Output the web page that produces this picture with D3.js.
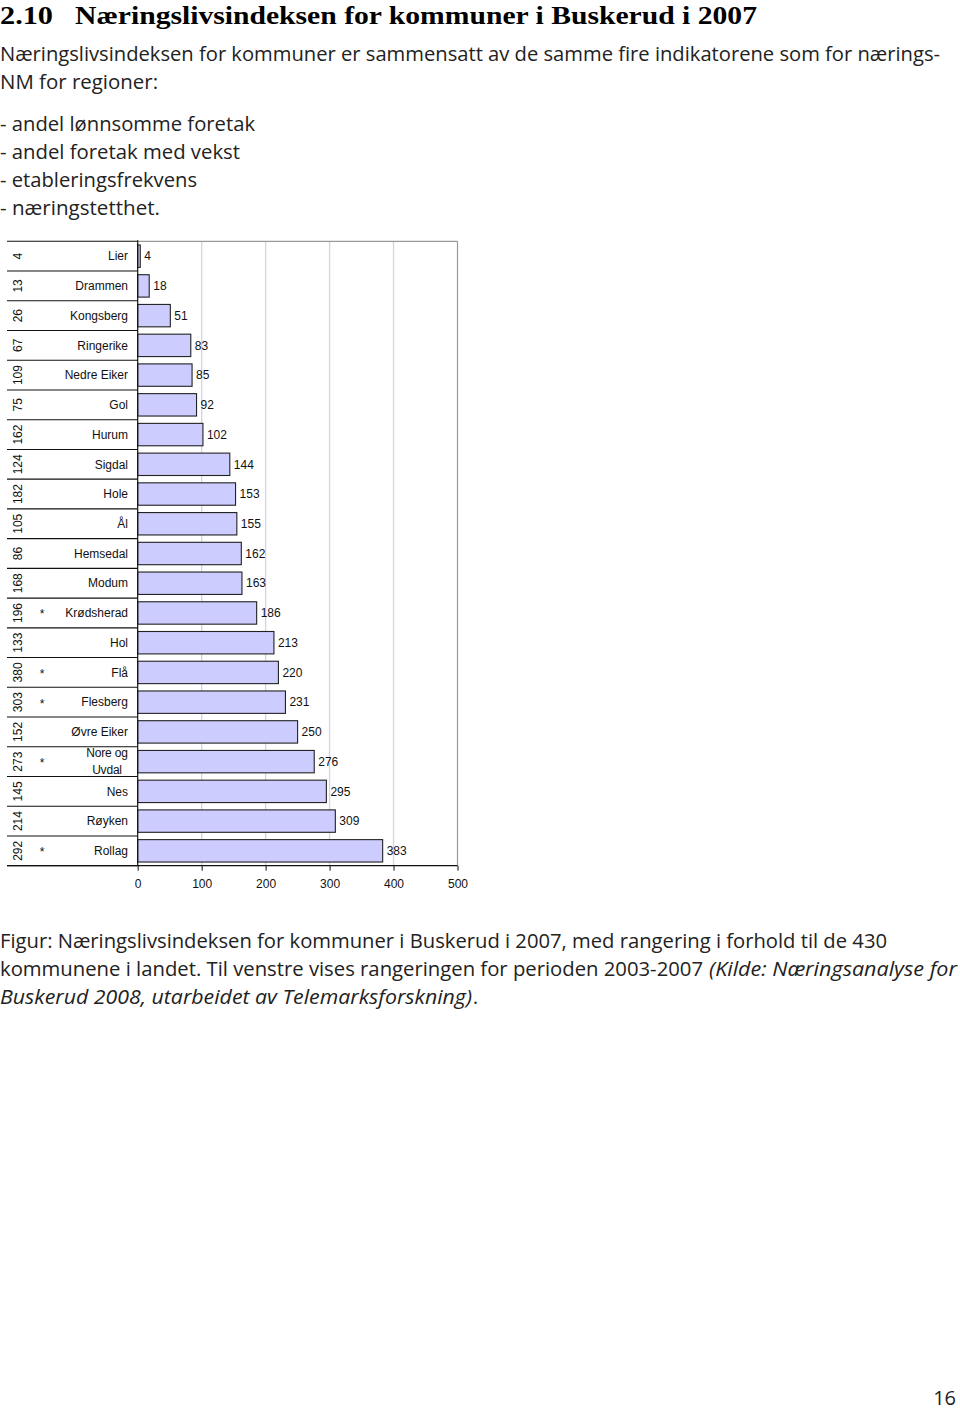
<!DOCTYPE html>
<html>
<head>
<meta charset="utf-8">
<script src="https://cdn.jsdelivr.net/npm/d3@7"></script>
<style>
  html, body { margin: 0; padding: 0; background: #fff; }
  svg { display: block; }
</style>
</head>
<body>
<script>
// ---- Data ----
const categories = ["Lier","Drammen","Kongsberg","Ringerike","Nedre Eiker","Gol","Hurum","Sigdal","Hole","Ål","Hemsedal","Modum","Krødsherad","Hol","Flå","Flesberg","Øvre Eiker","Nore og Uvdal","Nes","Røyken","Rollag"];
const values = [4,18,51,83,85,92,102,144,153,155,162,163,186,213,220,231,250,276,295,309,383];
const ranks2003_2007 = [4,13,26,67,109,75,162,124,182,105,86,168,196,133,380,303,152,273,145,214,292];
const starred = ["Krødsherad","Flå","Flesberg","Nore og Uvdal","Rollag"];
const xTicks = [0,100,200,300,400,500];

const W = 960, H = 1410;
const svg = d3.select("body").append("svg").attr("width", W).attr("height", H);

// ---- Page text ----
const bodyFont = "'Open Sans', 'Noto Sans', sans-serif";
svg.append("text").attr("x", 0).attr("y", 24)
  .attr("font-family", "'Liberation Serif', serif").attr("font-weight", "bold").attr("font-size", 26)
  .attr("textLength", 53).attr("lengthAdjust", "spacingAndGlyphs").text("2.10");
svg.append("text").attr("x", 75).attr("y", 24)
  .attr("font-family", "'Liberation Serif', serif").attr("font-weight", "bold").attr("font-size", 26)
  .attr("textLength", 682).attr("lengthAdjust", "spacingAndGlyphs")
  .text("Næringslivsindeksen for kommuner i Buskerud i 2007");

const bodyLines = [
  {t: "Næringslivsindeksen for kommuner er sammensatt av de samme fire indikatorene som for nærings-", y: 61, w: 940},
  {t: "NM for regioner:", y: 89, w: 158},
  {t: "- andel lønnsomme foretak", y: 131, w: 255},
  {t: "- andel foretak med vekst", y: 159, w: 240},
  {t: "- etableringsfrekvens", y: 187, w: 197},
  {t: "- næringstetthet.", y: 215, w: 160}
];
bodyLines.forEach(l => {
  svg.append("text").attr("x", 0).attr("y", l.y)
    .attr("font-family", bodyFont).attr("font-size", 20).attr("fill", "#222")
    .attr("textLength", l.w).attr("lengthAdjust", "spacingAndGlyphs").text(l.t);
});

const capLines = [
  {t: "Figur: Næringslivsindeksen for kommuner i Buskerud i 2007, med rangering i forhold til de 430", x: 0, y: 948, w: 887, it: false},
  {t: "kommunene i landet. Til venstre vises rangeringen for perioden 2003-2007", x: 0, y: 976, w: 703, it: false},
  {t: "(Kilde: Næringsanalyse for", x: 709, y: 976, w: 248, it: true},
  {t: "Buskerud 2008, utarbeidet av Telemarksforskning)", x: 0, y: 1004, w: 472, it: true},
  {t: ".", x: 473, y: 1004, w: 5, it: false}
];
capLines.forEach(l => {
  svg.append("text").attr("x", l.x).attr("y", l.y)
    .attr("font-family", bodyFont).attr("font-size", 20).attr("fill", "#222")
    .attr("font-style", l.it ? "italic" : "normal")
    .attr("textLength", l.w).attr("lengthAdjust", "spacingAndGlyphs").text(l.t);
});

svg.append("text").attr("x", 956).attr("y", 1405).attr("text-anchor", "end")
  .attr("font-family", bodyFont).attr("font-size", 20).attr("fill", "#222").text("16");

// ---- Chart ----
const chartFont = "'Liberation Sans', Arial, sans-serif";
const x0 = 137.7, x1 = 457.5, yTop = 241.3, yBot = 865.7, tableLeft = 7;
const x = d3.scaleLinear().domain([0, 500]).range([x0, x1]);
const y = d3.scaleBand().domain(categories).range([yTop, yBot]);
const rowH = y.step();
const rowTop = i => yTop + i * rowH;
const rowMid = i => y(categories[i]) + rowH / 2;

const g = svg.append("g");

// gridlines
g.selectAll("line.grid").data(xTicks.filter(d => d > 0 && d < 500)).enter().append("line")
  .attr("x1", d => x(d)).attr("x2", d => x(d)).attr("y1", yTop).attr("y2", yBot)
  .attr("stroke", "#d2d2ea").attr("stroke-width", 1.3);

// plot border (top and right)
g.append("line").attr("x1", x0).attr("x2", x1).attr("y1", yTop).attr("y2", yTop).attr("stroke", "#9a9a9a").attr("stroke-width", 1.2);
g.append("line").attr("x1", x1).attr("x2", x1).attr("y1", yTop).attr("y2", yBot).attr("stroke", "#9a9a9a").attr("stroke-width", 1.2);

// table row separators
d3.range(categories.length + 1).forEach(i => {
  g.append("line").attr("x1", tableLeft).attr("x2", x0).attr("y1", rowTop(i)).attr("y2", rowTop(i))
    .attr("stroke", "#111").attr("stroke-width", 1.1);
});

// bars
g.selectAll("rect.bar").data(categories).enter().append("rect")
  .attr("x", x(0)).attr("y", (d, i) => rowMid(i) - 11.2)
  .attr("width", (d, i) => x(values[i]) - x(0)).attr("height", 22.4)
  .attr("fill", "#ccccff").attr("stroke", "#222").attr("stroke-width", 1.1);

// value labels
g.selectAll("text.val").data(values).enter().append("text")
  .attr("x", d => x(d) + 4).attr("y", (d, i) => rowMid(i)).attr("dy", "0.35em")
  .attr("font-family", chartFont).attr("font-size", 12).attr("fill", "#111").text(d => d);

// category labels
categories.forEach((c, i) => {
  if (c === "Nore og Uvdal") {
    g.append("text").attr("x", 107).attr("y", rowMid(i) - 8.5).attr("dy", "0.35em").attr("text-anchor", "middle")
      .attr("font-family", chartFont).attr("font-size", 12).attr("letter-spacing", -0.2).attr("fill", "#111").text("Nore og");
    g.append("text").attr("x", 107).attr("y", rowMid(i) + 8.5).attr("dy", "0.35em").attr("text-anchor", "middle")
      .attr("font-family", chartFont).attr("font-size", 12).attr("letter-spacing", -0.2).attr("fill", "#111").text("Uvdal");
  } else {
    g.append("text").attr("x", 128).attr("y", rowMid(i)).attr("dy", "0.35em").attr("text-anchor", "end")
      .attr("font-family", chartFont).attr("font-size", 12).attr("fill", "#111").text(c);
  }
  if (starred.includes(c)) {
    g.append("text").attr("x", 42).attr("y", rowMid(i) + 5.5).attr("text-anchor", "middle")
      .attr("font-family", chartFont).attr("font-size", 12).attr("fill", "#111").text("*");
  }
  g.append("text").attr("transform", `translate(21.5,${rowMid(i)}) rotate(-90)`).attr("text-anchor", "middle")
    .attr("font-family", chartFont).attr("font-size", 12).attr("fill", "#111").text(ranks2003_2007[i]);
});

// category axis line (left)
g.append("line").attr("x1", x0).attr("x2", x0).attr("y1", yTop - 1).attr("y2", yBot).attr("stroke", "#111").attr("stroke-width", 1.2);

// bottom axis
const xAxis = d3.axisBottom(x).tickValues(xTicks).tickSize(5).tickPadding(9);
const ax = svg.append("g").attr("transform", `translate(0,${yBot})`).call(xAxis);
ax.select(".domain").remove();
ax.selectAll(".tick line").attr("stroke", "#111");
ax.selectAll(".tick text").attr("font-family", chartFont).attr("font-size", 12).attr("fill", "#111");
svg.append("line").attr("x1", tableLeft).attr("x2", x1).attr("y1", yBot).attr("y2", yBot).attr("stroke", "#111").attr("stroke-width", 1.2);
</script>
</body>
</html>
